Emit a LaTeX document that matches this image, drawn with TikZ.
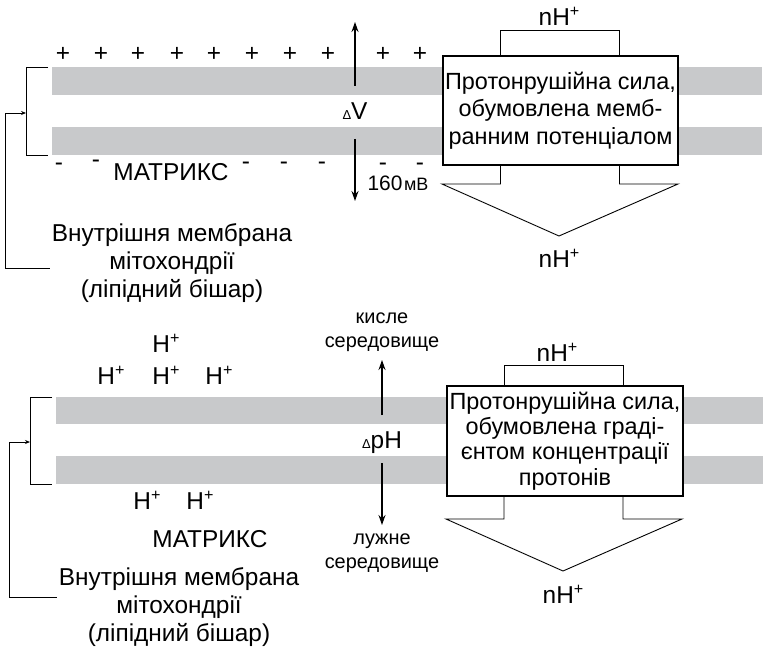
\documentclass[tikz,border=0pt]{standalone}
\usepackage{fontspec}
\setmainfont{Liberation Sans}
\usetikzlibrary{arrows.meta}
\definecolor{lipid}{HTML}{C8C9CB}
\newcommand{\plusup}{\raisebox{0.38em}{\scalebox{0.66}{+}}}
\tikzset{
    txt/.style={font=\fontsize{24.5}{28}\selectfont, inner sep=0pt},
    small/.style={font=\fontsize{20}{24}\selectfont, inner sep=0pt, align=center},
    forcebox/.style={draw, line width=2bp, fill=white, inner sep=1.5bp, align=center,
        font=\fontsize{23.5}{27.5}\selectfont},
    thin/.style={line width=0.9bp},
    field/.style={line width=1.3bp, -{Stealth[length=10bp,width=7bp]}},
    tip/.style={-{Stealth[length=5bp,width=4bp]}},
}

\begin{document}
\begin{tikzpicture}[x=1bp,y=-1bp]
    \useasboundingbox (0,0) rectangle (763,647);

    % Membrane, upper panel
    \fill[lipid] (52,67) rectangle (762,95);
    \fill[lipid] (52,127) rectangle (762,155);

    % Charges
    \foreach \x in {63,101,138,177,214,252,290,328,383,420} {
        \node[txt] (plus\x) at (\x,54) {+};
    }
    \foreach \x/\y in {59/167,96/164,246/166,284/166,322/166,383/167,420/167} {
        \node[txt] (minus\x) at (\x,\y) {-};
    }
    \node[txt] (mat1) at (171,172) {МАТРИКС};

    % Bracket and label
    \node[txt, align=center] (memb1) at (172,263) {Внутрішня мембрана\\мітохондрії\\(ліпідний бішар)};
    \draw[thin] (48,67) -- (26,67) -- (26,155) -- (48,155);
    \coordinate (brk1) at (26,113);
    \coordinate (lft1) at (5,113);
    \draw[thin, tip] ([xshift=-2bp,yshift=-5bp]memb1.west) -| (lft1) -- (brk1);

    % Potential
    \coordinate (up1a) at (355,86);
    \coordinate (up1b) at (355,22);
    \coordinate (dn1a) at (355,139);
    \coordinate (dn1b) at (355,201);
    \draw[field] (up1a) -- (up1b);
    \draw[field] (dn1a) -- (dn1b);
    \node[txt] (dV) at (355,111) {{\fontsize{13}{13}\selectfont Δ}V};
    \node[inner sep=0pt] (mV) at (398,183) {{\fontsize{21}{21}\selectfont 160}\,{\fontsize{18}{18}\selectfont мВ}};

    % Force box, upper panel
    \node[forcebox, minimum width=235bp, minimum height=109bp] (box1) at (560.5,110.5)
        {Протонрушійна сила,\\обумовлена мемб-\\ранним потенціалом};
    \draw[thin] ([xshift=-60bp]box1.north) -- ++(0,-25) -| ([xshift=59bp]box1.north);
    \draw[thin] ([xshift=-60bp]box1.south) |- (442,184) -- (559,236) -- (678,184) -| ([xshift=59bp]box1.south);
    \node[txt] (nin1) at (559,16) {nH\plusup};
    \node[txt] (nout1) at (559,258) {nH\plusup};

    % Membrane, lower panel
    \fill[lipid] (56,397) rectangle (763,424);
    \fill[lipid] (56,456) rectangle (763,484);

    % Protons
    \node[txt] (hp0) at (166,343) {H\plusup};
    \foreach \x in {111,166,219} {
        \node[txt] (hpo\x) at (\x,375) {H\plusup};
    }
    \foreach \x in {147,200} {
        \node[txt] (hpi\x) at (\x,500) {H\plusup};
    }
    \node[txt] (mat2) at (210,539) {МАТРИКС};

    % Bracket and label
    \node[txt, align=center] (memb2) at (179,607) {Внутрішня мембрана\\мітохондрії\\(ліпідний бішар)};
    \draw[thin] (52,397) -- (30,397) -- (30,484) -- (52,484);
    \coordinate (brk2) at (30,442);
    \coordinate (lft2) at (9,442);
    \draw[thin, tip] ([xshift=-2bp,yshift=10bp]memb2.west) -| (lft2) -- (brk2);

    % pH gradient
    \coordinate (up2a) at (382,415);
    \coordinate (up2b) at (382,360);
    \coordinate (dn2a) at (382,463);
    \coordinate (dn2b) at (382,525);
    \draw[field] (up2a) -- (up2b);
    \draw[field] (dn2a) -- (dn2b);
    \node[txt] (dpH) at (382,443) {{\fontsize{13}{13}\selectfont Δ}pH};
    \node[small] (acid) at (382,332) {кисле\\середовище};
    \node[small] (base) at (382,553) {лужне\\середовище};

    % Force box, lower panel
    \node[forcebox, minimum width=236bp, minimum height=110bp,
        font=\fontsize{23.5}{25.5}\selectfont] (box2) at (565,441)
        {Протонрушійна сила,\\обумовлена граді-\\єнтом концентрації\\протонів};
    \draw[thin] ([xshift=-61bp]box2.north) -- ++(0,-20) -| ([xshift=58bp]box2.north);
    \draw[thin] ([xshift=-61bp]box2.south) |- (446,519) -- (563,571) -- (682,519) -| ([xshift=58bp]box2.south);
    \node[txt] (nin2) at (557,352) {nH\plusup};
    \node[txt] (nout2) at (563,594) {nH\plusup};
\end{tikzpicture}
\end{document}
